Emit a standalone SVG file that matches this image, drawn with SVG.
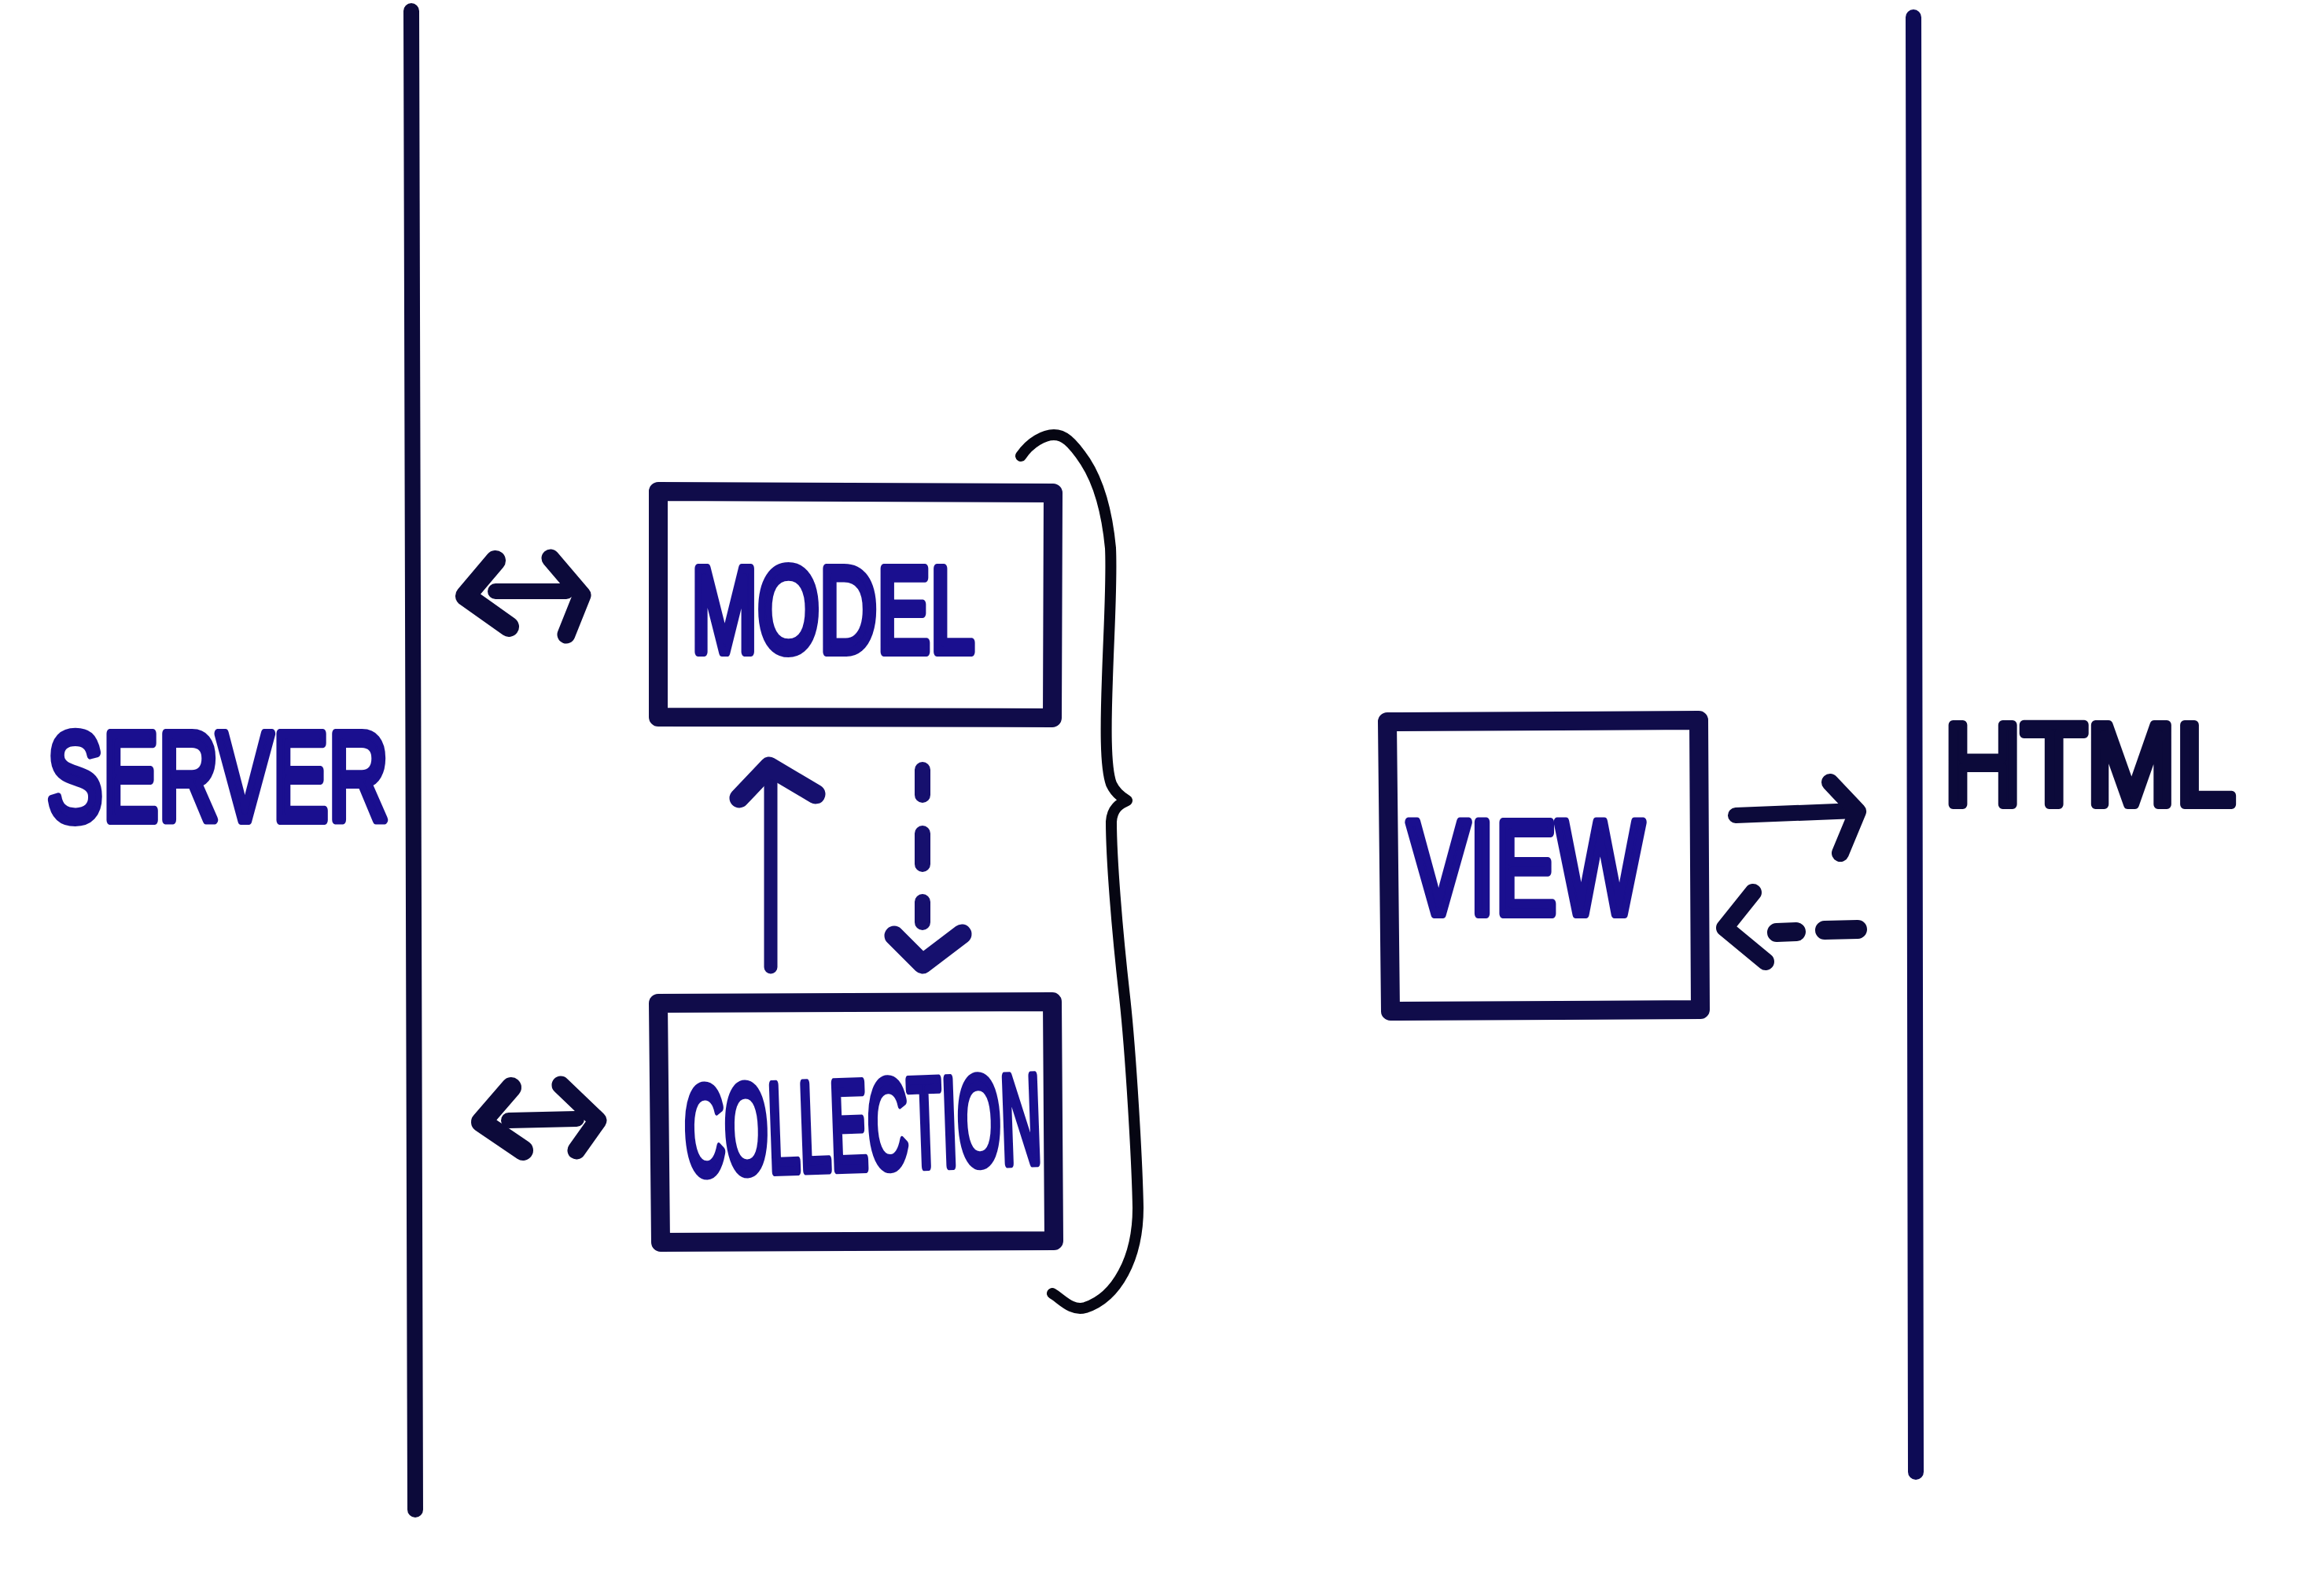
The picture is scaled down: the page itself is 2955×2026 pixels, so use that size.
<svg xmlns="http://www.w3.org/2000/svg" width="2955" height="2026" viewBox="0 0 2955 2026">
<style>
.bg{fill:#ffffff}
.lbl{font-family:"Liberation Sans","DejaVu Sans",Arial,sans-serif;font-weight:normal;fill:#1a0f8f;stroke:#1a0f8f;stroke-width:12;stroke-linejoin:round;stroke-linecap:round}
.box{fill:none;stroke:#100c4a;stroke-width:24;stroke-linejoin:round;stroke-linecap:round}
.pen{fill:none;stroke:#0c0a3a;stroke-linecap:round;stroke-linejoin:round}
.brace{fill:none;stroke:#060612;stroke-width:14;stroke-linecap:round;stroke-linejoin:round}
</style>
<rect class="bg" x="0" y="0" width="2955" height="2026"/>
<g id="boundaries">
<path class="pen" d="M523,14 L528,1920" stroke-width="20"/>
<path class="pen" d="M2433,22 L2436,1872" stroke-width="20" style="stroke:#0d0b55"/>
</g>
<g id="server">
<text class="lbl" x="60" y="1043" font-size="160" textLength="434" lengthAdjust="spacingAndGlyphs">SERVER</text>
</g>
<g id="html">
<text class="lbl" x="2472" y="1023" font-size="146" textLength="370" lengthAdjust="spacingAndGlyphs" style="fill:#0c0a3a;stroke:#0c0a3a">HTML</text>
</g>
<g id="model">
<path class="box" d="M837,625 L1339,627 L1338,913 L837,912 Z"/>
<text class="lbl" x="879" y="829" font-size="154" textLength="360" lengthAdjust="spacingAndGlyphs">MODEL</text>
</g>
<g id="collection">
<path class="box" d="M837,1276 L1338,1274 L1340,1578 L840,1580 Z"/>
<text class="lbl" x="870" y="1486" font-size="160" textLength="454" lengthAdjust="spacingAndGlyphs" transform="rotate(-2 1097 1430)">COLLECTION</text>
</g>
<g id="view">
<path class="box" d="M1764,918 L2160,916 L2162,1284 L1768,1286 Z"/>
<text class="lbl" x="1790" y="1162" font-size="168" textLength="300" lengthAdjust="spacingAndGlyphs">VIEW</text>
</g>
<g id="brace">
<path class="brace" d="M1298,580 C1310,562 1328,553 1340,553 C1352,553 1362,560 1380,587 C1398,615 1408,655 1412,697 C1414,740 1410,800 1408,863 C1406,920 1405,975 1413,997 C1418,1008 1426,1014 1433,1018 C1424,1022 1414,1028 1413,1045 C1413,1090 1420,1180 1430,1268 C1438,1340 1446,1480 1447,1536 C1447,1600 1420,1650 1380,1663 C1362,1668 1350,1652 1338,1645"/>
</g>
<g id="connectors">
<path class="pen" d="M630,752 L720,752" stroke-width="20"/>
<path class="pen" d="M630,713 L592,758 L647,797" stroke-width="26"/>
<path class="pen" d="M700,710 L740,757 L720,807" stroke-width="23"/>
<path class="pen" d="M647,1425 L733,1423" stroke-width="20"/>
<path class="pen" d="M650,1383 L612,1427 L665,1463" stroke-width="26"/>
<path class="pen" d="M713,1380 L760,1425 L733,1463" stroke-width="23"/>
<path class="pen" d="M980,1230 L980,980" stroke-width="17" style="stroke:#16106e"/>
<path class="pen" d="M940,1015 L978,975 L1037,1010" stroke-width="25" style="stroke:#16106e"/>
<path class="pen" d="M1173,979 L1173,1011 M1173,1060 L1173,1099 M1173,1147 L1173,1173" stroke-width="20" style="stroke:#16106e"/>
<path class="pen" d="M1137,1190 L1173,1226 L1223,1188" stroke-width="25" style="stroke:#16106e"/>
<path class="pen" d="M2207,1037 L2360,1031" stroke-width="20"/>
<path class="pen" d="M2327,995 L2362,1032 L2340,1085" stroke-width="22"/>
<path class="pen" d="M2229,1135 L2193,1180 L2245,1223" stroke-width="22"/>
<path class="pen" d="M2259,1186 L2284,1185 M2320,1183 L2362,1182" stroke-width="24"/>
</g>
</svg>
